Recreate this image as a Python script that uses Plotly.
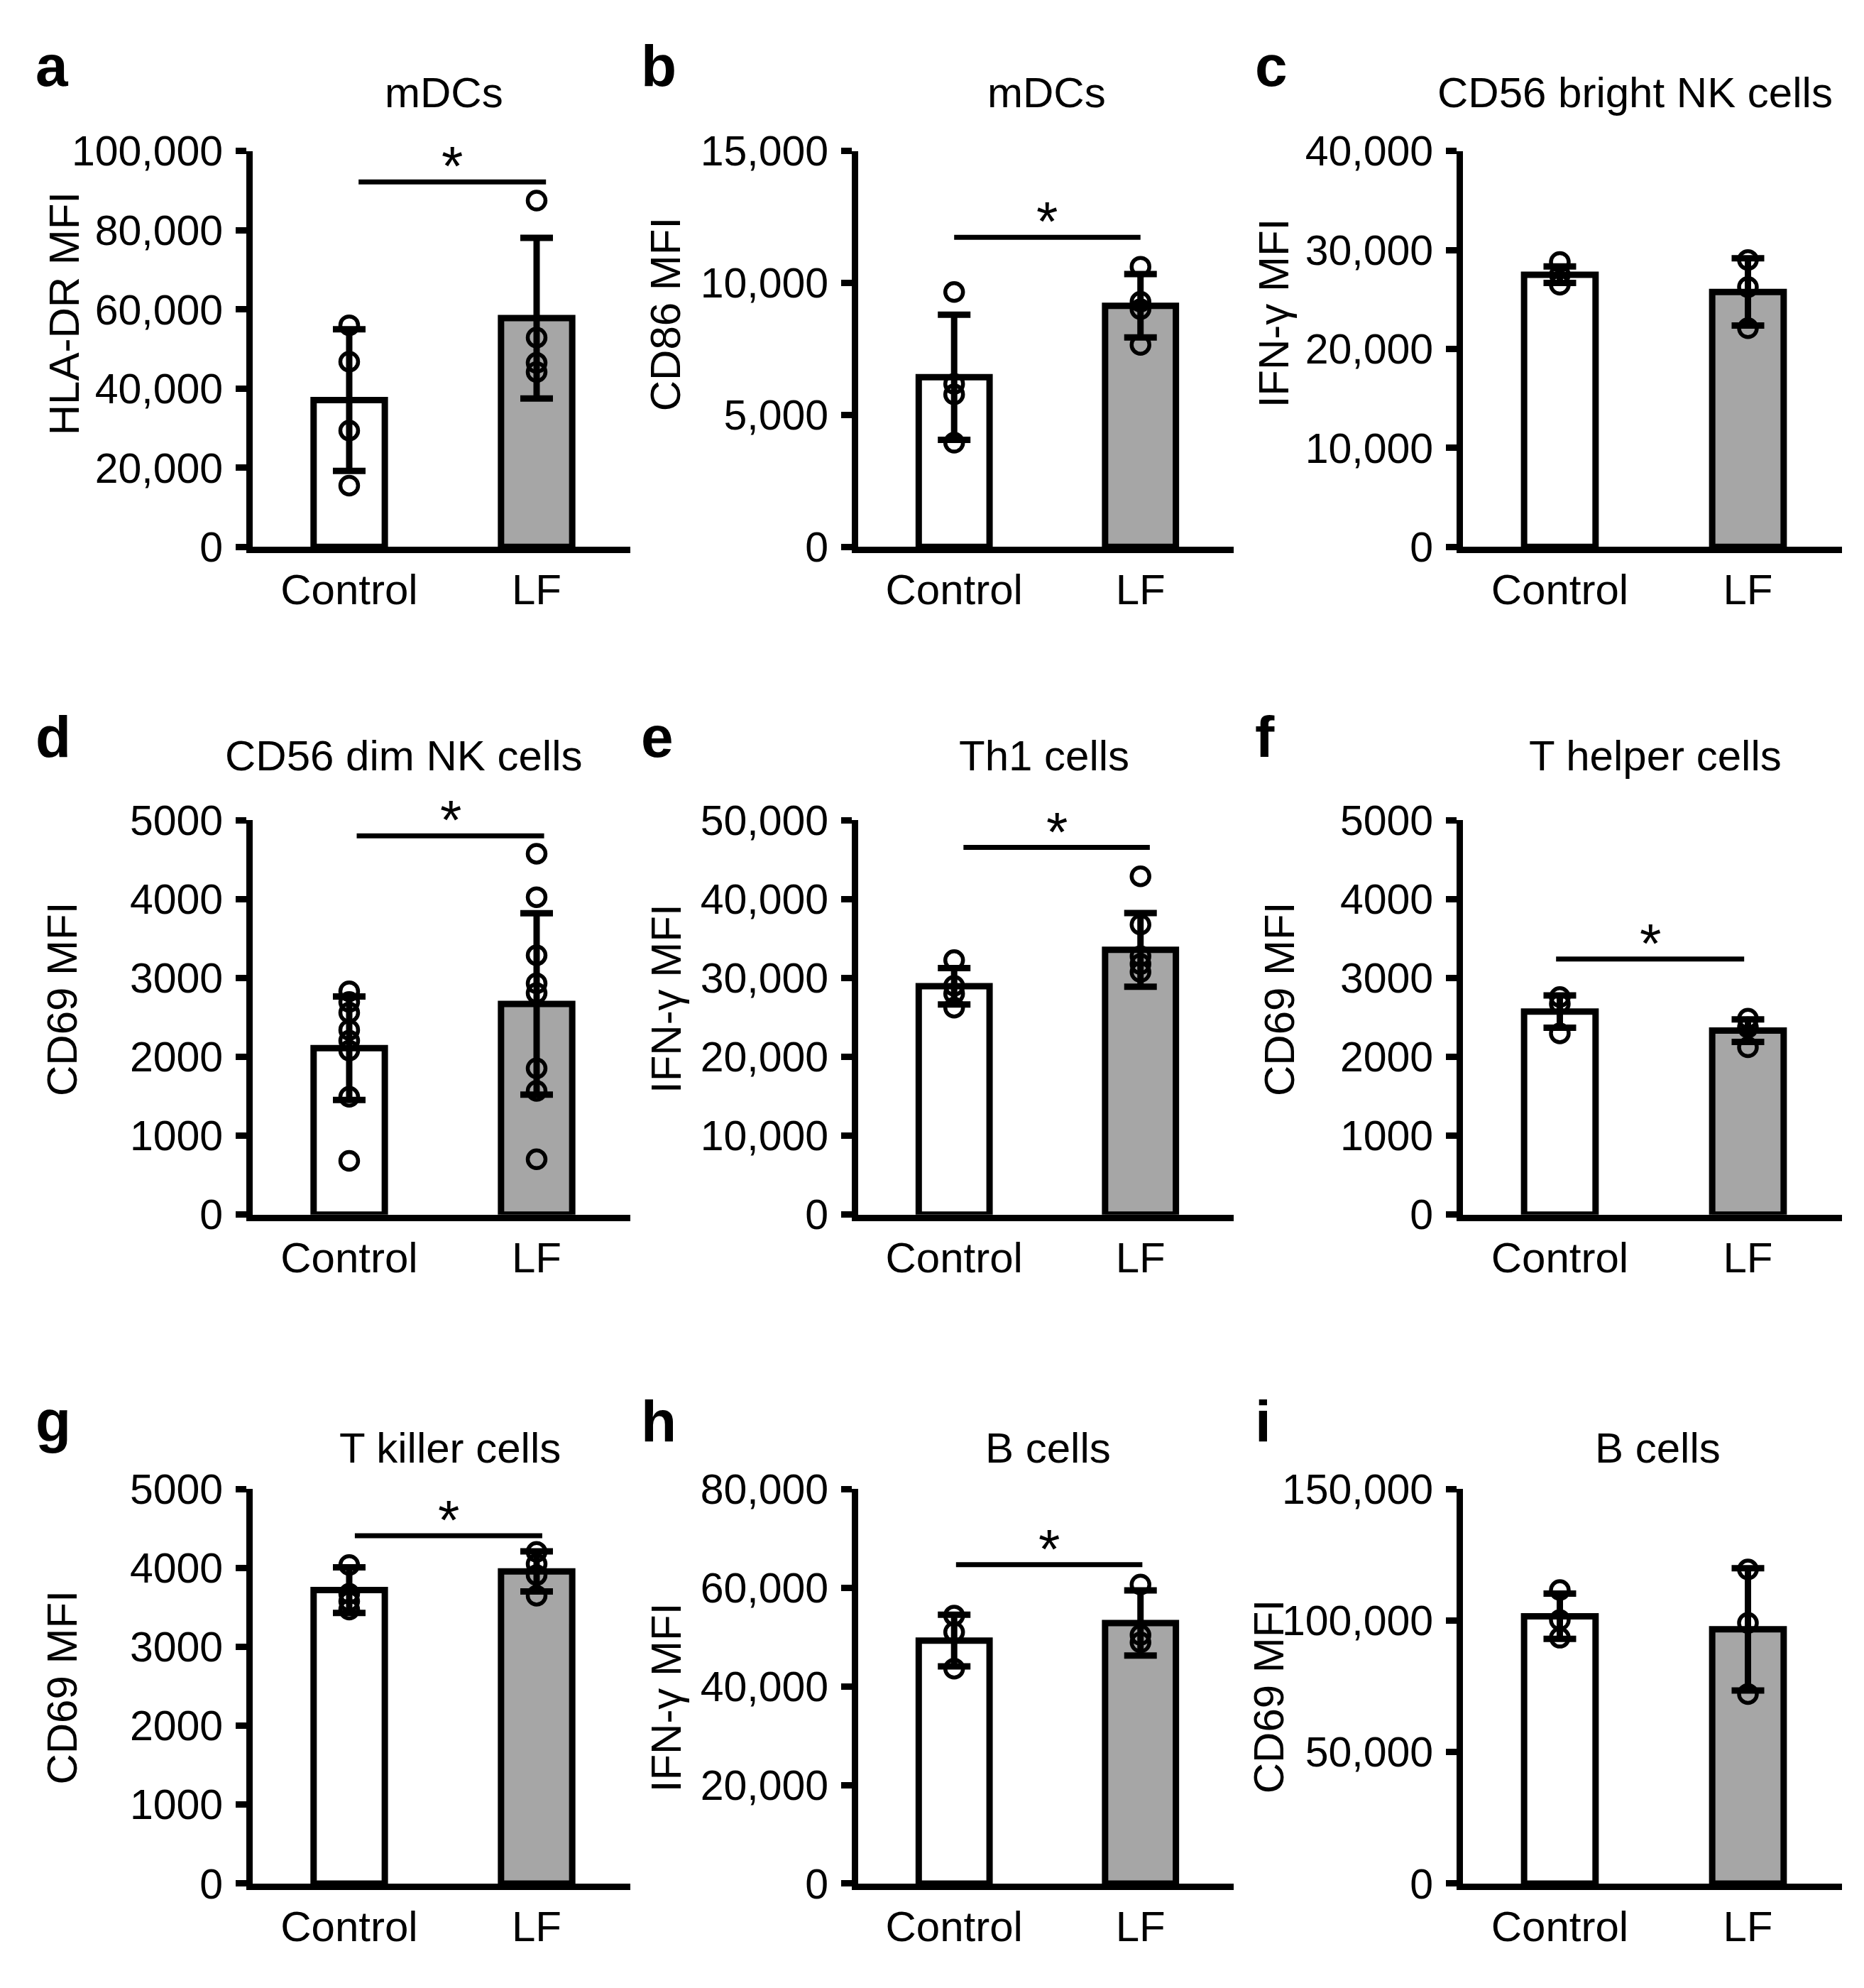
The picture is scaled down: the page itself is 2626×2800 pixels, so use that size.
import plotly.graph_objects as go
from plotly.subplots import make_subplots

# ---------------- data ----------------
categories = ["Control", "LF"]
panel_letters = ["a", "b", "c", "d", "e", "f", "g", "h", "i"]
panel_titles = ["mDCs", "mDCs", "CD56 bright NK cells",
                "CD56 dim NK cells", "Th1 cells", "T helper cells",
                "T killer cells", "B cells", "B cells"]
y_titles = ["HLA-DR MFI", "CD86 MFI", "IFN-γ MFI",
            "CD69 MFI", "IFN-γ MFI", "CD69 MFI",
            "CD69 MFI", "IFN-γ MFI", "CD69 MFI"]
y_max = [100000, 15000, 40000, 5000, 50000, 5000, 5000, 80000, 150000]
y_step = [20000, 5000, 10000, 1000, 10000, 1000, 1000, 20000, 50000]
thousands_sep = [True, True, True, False, True, False, False, True, True]

control_mean = [37100, 6430, 27510, 2109, 28940, 2573, 3720, 49280, 101660]
control_sd = [17900, 2370, 830, 656, 2300, 205, 289, 5230, 8600]
lf_mean = [57800, 9140, 25770, 2670, 33550, 2332, 3957, 52840, 96690]
lf_sd = [20300, 1200, 3400, 1150, 4660, 143, 254, 6600, 23250]

control_points = [
    [56000, 46800, 29400, 15500],
    [9660, 6180, 5780, 3950],
    [28800, 27500, 26500],
    [2830, 2695, 2560, 2340, 2204, 2079, 1493, 681],
    [32250, 29000, 28000, 26230],
    [2758, 2673, 2297],
    [4038, 3673, 3578, 3474],
    [54360, 51000, 43600],
    [111600, 100200, 93500],
]
lf_points = [
    [87500, 52900, 46500, 44200],
    [10620, 9290, 9010, 7660],
    [29000, 26260, 22100],
    [4574, 4023, 3287, 2931, 2806, 1854, 1568, 701],
    [42880, 36760, 32750, 31750, 30740],
    [2482, 2372, 2121],
    [4204, 4052, 3910, 3649],
    [60650, 50410, 48900],
    [119430, 99100, 72090],
]
sig_y = [92200, 11730, None, 4800, 46540, 3240, 4408, 64680, None]
sig_label = "*"

# ---------------- layout / style ----------------
W, H = 2626, 2800
FONT = "Liberation Sans, Arial, sans-serif"
col_px = [(348, 880), (1201, 1730), (2053, 2587)]
row_px = [(177, 748), (1142, 1711), (2107, 2676)]
x_range = [-0.515, 1.5]
sig_x0 = [0.05, 0.0, 0, 0.04, 0.05, -0.02, 0.03, 0.01, 0]
title_dx = [3, 1, -25, -54, -3, 4, 12, 3, 7]
title_base = [115, 115, 115, 1072, 1072, 1072, 2070, 2070, 2070]
letter_left = [44, 897, 1762]
letter_base = [84, 1052, 2040]
ytitle_x = [82, 929, 1786, 80, 930, 1795, 80, 930, 1779]
ytitle_y = [412, 413, 411, 1401, 1399, 1401, 2394, 2407, 2407]
bar_colors = ["white", "#a6a6a6"]
LW = 9

fig = make_subplots(rows=3, cols=3)
annotations = []
shapes = []


def px_x(p):
    return p / W


def px_y(p):
    return 1 - p / H


for k in range(9):
    r, c = divmod(k, 3)
    row, col = r + 1, c + 1
    fig.add_trace(go.Bar(
        x=categories, y=[control_mean[k], lf_mean[k]], width=0.38,
        marker=dict(color=bar_colors, line=dict(color="black", width=9)),
        error_y=dict(type="data", array=[control_sd[k], lf_sd[k]], visible=True,
                     thickness=LW, width=23, color="black"),
        showlegend=False, hoverinfo="skip"), row=row, col=col)
    xs = [categories[0]] * len(control_points[k]) + [categories[1]] * len(lf_points[k])
    ys = control_points[k] + lf_points[k]
    fig.add_trace(go.Scatter(
        x=xs, y=ys, mode="markers",
        marker=dict(symbol="circle-open", size=25, color="black", line=dict(width=5.5, color="black")),
        showlegend=False, hoverinfo="skip", cliponaxis=False), row=row, col=col)

    xa = "xaxis" if k == 0 else f"xaxis{k+1}"
    ya = "yaxis" if k == 0 else f"yaxis{k+1}"
    xref = "x" if k == 0 else f"x{k+1}"
    yref = "y" if k == 0 else f"y{k+1}"
    x0p, x1p = col_px[c]
    y0p, y1p = row_px[r]
    fig.layout[xa].update(
        domain=[px_x(x0p), px_x(x1p)], range=x_range, type="category",
        showline=True, linewidth=LW, linecolor="black", ticks="",
        tickfont=dict(family=FONT, size=60, color="black"),
        showgrid=False, zeroline=False, fixedrange=True)
    fig.layout[ya].update(
        domain=[px_y(y1p), px_y(y0p)], range=[0, y_max[k]], tick0=0, dtick=y_step[k],
        tickformat=",d" if thousands_sep[k] else "d",
        showline=True, linewidth=LW, linecolor="black",
        ticks="outside", ticklen=15, tickwidth=LW, tickcolor="black",
        ticklabelstandoff=6,
        tickfont=dict(family=FONT, size=59, color="black"),
        showgrid=False, zeroline=False, fixedrange=True)

    if sig_y[k] is not None:
        shapes.append(dict(type="line", xref=xref, yref=yref,
                           x0=sig_x0[k], x1=sig_x0[k] + 1.0, y0=sig_y[k], y1=sig_y[k],
                           line=dict(color="black", width=7)))
        annotations.append(dict(text=sig_label, xref=xref, yref=yref,
                                x=sig_x0[k] + 0.5, y=sig_y[k], yanchor="middle",
                                yshift=22, showarrow=False,
                                font=dict(family=FONT, size=78, color="black")))

    # panel title
    annotations.append(dict(text=panel_titles[k], xref="paper", yref="paper",
                            x=px_x((x0p + x1p) / 2 + title_dx[k]),
                            y=px_y(title_base[k] + 14), yanchor="bottom", xanchor="center",
                            showarrow=False, font=dict(family=FONT, size=60, color="black")))
    # panel letter
    annotations.append(dict(text=f"<b>{panel_letters[k]}</b>", xref="paper", yref="paper",
                            x=px_x(letter_left[c] - 4), y=px_y(letter_base[r] + 18),
                            xanchor="left", yanchor="bottom", showarrow=False,
                            font=dict(family=FONT, size=82, color="black")))
    # y-axis title
    annotations.append(dict(text=y_titles[k], xref="paper", yref="paper",
                            x=px_x(ytitle_x[k]), y=px_y(ytitle_y[k]), textangle=-90,
                            xanchor="center", yanchor="middle", showarrow=False,
                            font=dict(family=FONT, size=60, color="black")))

fig.update_layout(width=W, height=H, margin=dict(l=0, r=0, t=0, b=0),
                  paper_bgcolor="white", plot_bgcolor="white",
                  annotations=annotations, shapes=shapes, barmode="overlay")
fig.write_html("out.html")
